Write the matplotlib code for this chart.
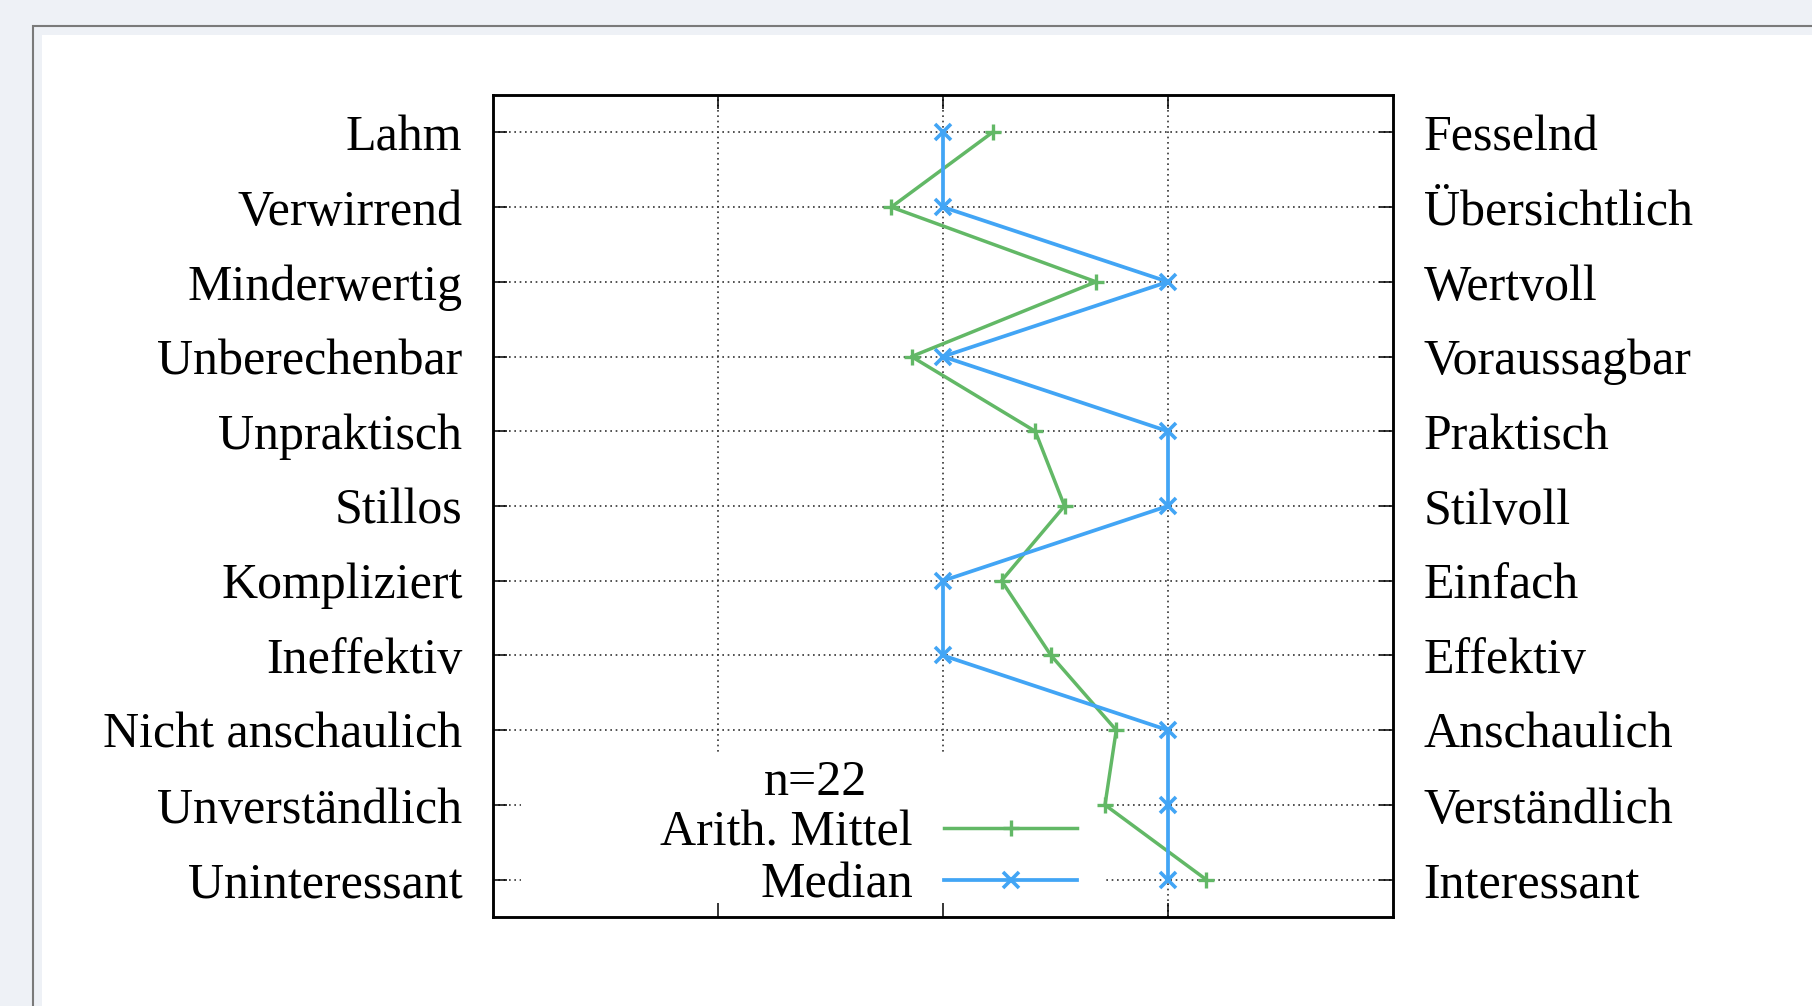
import matplotlib
import matplotlib.pyplot as plt
import numpy as np
from matplotlib.patches import Rectangle

matplotlib.use('Agg')

left_labels = ["Lahm", "Verwirrend", "Minderwertig", "Unberechenbar", "Unpraktisch",
               "Stillos", "Kompliziert", "Ineffektiv", "Nicht anschaulich",
               "Unverständlich", "Uninteressant"]
right_labels = ["Fesselnd", "Übersichtlich", "Wertvoll", "Voraussagbar", "Praktisch",
                "Stilvoll", "Einfach", "Effektiv", "Anschaulich",
                "Verständlich", "Interessant"]
mean_values = [0.22, -0.23, 0.68, -0.14, 0.41, 0.54, 0.26, 0.48, 0.77, 0.72, 1.17]
median_values = [0, 0, 1, 0, 1, 1, 0, 0, 1, 1, 1]
x_ticks = [-1, 0, 1]
n_label = "n=22"

green = '#62b866'
blue = '#42a5f5'

plt.rcParams['font.family'] = ['Liberation Serif', 'DejaVu Serif']
plt.rcParams['font.size'] = 36

W, H = 1812, 1006
fig = plt.figure(figsize=(W / 100, H / 100), dpi=100)
fig.patch.set_facecolor('#eef1f6')

# page look of the screenshot
fig.add_artist(Rectangle((33 / W, -0.1), 1.1, 1.1 - 26 / H, transform=fig.transFigure,
                         facecolor='#eef1f6', edgecolor='#7a7a7a', lw=1.5, zorder=0))
fig.add_artist(Rectangle((42 / W, -0.1), 1.1, 1.1 - 35 / H, transform=fig.transFigure,
                         facecolor='white', edgecolor='none', zorder=0))

ax = fig.add_axes([493 / W, (H - 917) / H, 900 / W, 822 / H])
ax.set_facecolor('none')
y = np.arange(len(left_labels))

ax.set_xlim(-2, 2)
ax.set_ylim(len(left_labels) - 0.5, -0.5)

# grid by hand so the key box can sit between grid and ticks
grid_kw = dict(color='#333333', lw=1.2, ls=(0, (1, 2.2)), zorder=0.8)
for yy in y:
    ax.axhline(yy, **grid_kw)
for xx in x_ticks:
    ax.axvline(xx, **grid_kw)

ax.plot(mean_values, y, color=green, lw=2.5, marker='+', ms=11, mew=2.4,
        label='Arith. Mittel', zorder=2)
ax.plot(median_values, y, color=blue, lw=2.7, marker='x', ms=11, mew=2.6,
        label='Median', zorder=2.1)

ax.set_xticks(x_ticks)
ax.tick_params(axis='x', which='both', direction='in', length=10, width=1.1,
               top=True, bottom=True, labelbottom=False)
ax.set_yticks(y, labels=left_labels)
ax.tick_params(axis='y', direction='in', length=10, width=1.1, pad=22, right=False)
for s in ax.spines.values():
    s.set_linewidth(1.8)

ax2 = ax.twinx()
ax2.set_ylim(ax.get_ylim())
ax2.set_yticks(y, labels=right_labels)
ax2.tick_params(axis='y', direction='in', length=10, width=1.1, pad=22)
for s in ax2.spines.values():
    s.set_linewidth(1.8)

# opaque key area
ax.add_patch(Rectangle((0.0311, 0.0), 0.65, 0.2007, transform=ax.transAxes,
                       facecolor='white', edgecolor='none', zorder=1))
ax.text(0.3578, 0.1484, n_label, transform=ax.transAxes, ha='center', va='baseline',
        zorder=3)

leg = ax.legend(loc='center right', bbox_to_anchor=(0.649, 0.070), frameon=False,
                markerfirst=False, numpoints=1, handlelength=2.66, handletextpad=0.62,
                labelspacing=0.12, borderpad=0, borderaxespad=0)
leg.set_zorder(3)
for col in leg._legend_handle_box.get_children():
    col.align = 'right'

fig.savefig('out.png', dpi=100, facecolor=fig.get_facecolor())
